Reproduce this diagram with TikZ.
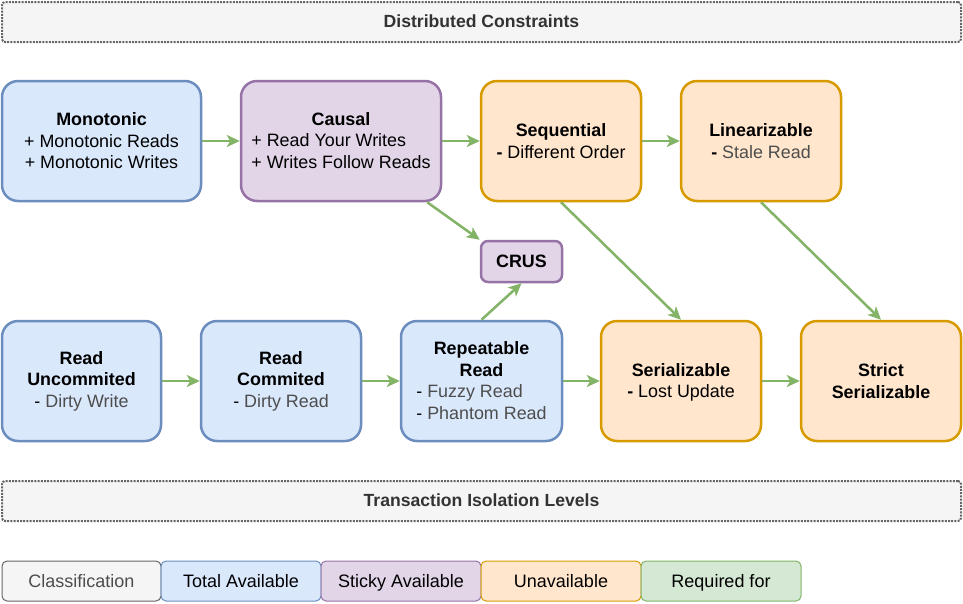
\documentclass[tikz,border=0pt]{standalone}
\usepackage{fontspec}
\setmainfont{Liberation Sans}
\usetikzlibrary{arrows.meta,calc}
\definecolor{bluef}{HTML}{DAE8FC}\definecolor{bluel}{HTML}{6C8EBF}
\definecolor{purf}{HTML}{E1D5E7}\definecolor{purl}{HTML}{9673A6}
\definecolor{oraf}{HTML}{FFE6CC}\definecolor{oral}{HTML}{D79B00}
\definecolor{grnf}{HTML}{D5E8D4}\definecolor{grnl}{HTML}{82B366}
\definecolor{grayf}{HTML}{F5F5F5}\definecolor{grayl}{HTML}{666666}
\definecolor{txtdark}{HTML}{333333}
\definecolor{txtgray}{HTML}{4D4D4D}
\newcommand{\sub}[1]{\textcolor{txtgray}{#1}}
\newcommand{\lowerit}[1]{\raisebox{-1.5pt}[\height][\depth]{#1}}
\begin{document}
\begin{tikzpicture}[x=1pt,y=-1pt,
  base/.style={rounded corners=16pt,line width=2.5pt,inner sep=0pt,
    font=\fontsize{17.9}{21.5}\selectfont,align=center,minimum height=120pt},
  tblue/.style={base,fill=bluef,draw=bluel},
  tpur/.style={base,fill=purf,draw=purl},
  tora/.style={base,fill=oraf,draw=oral},
  conn/.style={draw=grnl,line width=2.5pt,-{Stealth[length=13pt,width=12pt,inset=3.5pt]}},
  hdr/.style={draw=grayl,fill=grayf,line width=2pt,dash pattern=on 2pt off 1.2pt,
    font=\bfseries\fontsize{17.6}{20}\selectfont,text=txtdark,rounded corners=3pt,
    minimum width=959pt,minimum height=40pt,inner sep=0pt,text height=13pt,text depth=2pt},
  leg/.style={line width=1pt,rounded corners=5pt,font=\fontsize{18}{20}\selectfont,
    minimum height=40pt,inner sep=0pt,text height=14pt,text depth=1pt}]
\useasboundingbox (0,0) rectangle (963,603);

% headers
\node[hdr] (dc) at (481.5,22) {Distributed Constraints};
\node[hdr] (til) at (481.5,501) {Transaction Isolation Levels};

% top row
\node[tblue,minimum width=199pt] (mono) at (101.5,141)
  {\textbf{Monotonic}\\+ Monotonic Reads\\+ Monotonic Writes};
\node[tpur,minimum width=200pt] (causal) at (341,141)
  {\lowerit{\begin{tabular}{@{}l@{}}\multicolumn{1}{@{}c@{}}{\textbf{Causal}}\\+ Read Your Writes\\+ Writes Follow Reads\end{tabular}}};
\node[tora,minimum width=160pt] (seq) at (561,141)
  {\textbf{Sequential}\\\textbf{-} Different Order};
\node[tora,minimum width=160pt] (lin) at (761,141)
  {\textbf{Linearizable}\\\textbf{-} \sub{Stale Read}};

% CRUS
\node[tpur,minimum width=81pt,minimum height=41pt,rounded corners=7pt] (crus) at (521.5,261.5)
  {\textbf{CRUS}};

% bottom row
\node[tblue,minimum width=159pt] (ru) at (81.5,381)
  {\textbf{Read}\\\textbf{Uncommited}\\- \sub{Dirty Write}};
\node[tblue,minimum width=160pt] (rc) at (281,381)
  {\textbf{Read}\\\textbf{Commited}\\- \sub{Dirty Read}};
\node[tblue,minimum width=161pt] (rr) at (481.5,381)
  {\lowerit{\begin{tabular}{@{}l@{}}\multicolumn{1}{@{}c@{}}{\textbf{Repeatable}}\\\multicolumn{1}{@{}c@{}}{\textbf{Read}}\\- \sub{Fuzzy Read}\\- \sub{Phantom Read}\end{tabular}}};
\node[tora,minimum width=160pt] (ser) at (681,381)
  {\lowerit{\begin{tabular}{@{}c@{}}\textbf{Serializable}\\\textbf{-} Lost Update\end{tabular}}};
\node[tora,minimum width=160pt] (strict) at (881,381)
  {\textbf{Strict}\\\textbf{Serializable}};

% legend
\node[leg,draw=grayl,fill=grayf,text=txtgray,minimum width=159pt] (lg1) at (81.5,581) {Classification};
\node[leg,draw=bluel,fill=bluef,minimum width=160pt] (lg2) at (241,581) {Total Available};
\node[leg,draw=purl,fill=purf,minimum width=160pt] (lg3) at (401,581) {Sticky Available};
\node[leg,draw=oral,fill=oraf,minimum width=160pt] (lg4) at (561,581) {Unavailable};
\node[leg,draw=grnl,fill=grnf,minimum width=160pt] (lg5) at (721,581) {Required for};

% connectors
\draw[conn] (mono.east) -- (causal.west);
\draw[conn] (causal.east) -- (seq.west);
\draw[conn] (seq.east) -- (lin.west);
\draw[conn] ($(causal.south east)+(-15,0)$) -- (crus.north west);
\draw[conn] (rr.north) -- (crus.south);
\draw[conn] (seq.south) -- (ser.north);
\draw[conn] (lin.south) -- (strict.north);
\draw[conn] (ru.east) -- (rc.west);
\draw[conn] (rc.east) -- (rr.west);
\draw[conn] (rr.east) -- (ser.west);
\draw[conn] (ser.east) -- (strict.west);
\end{tikzpicture}
\end{document}
